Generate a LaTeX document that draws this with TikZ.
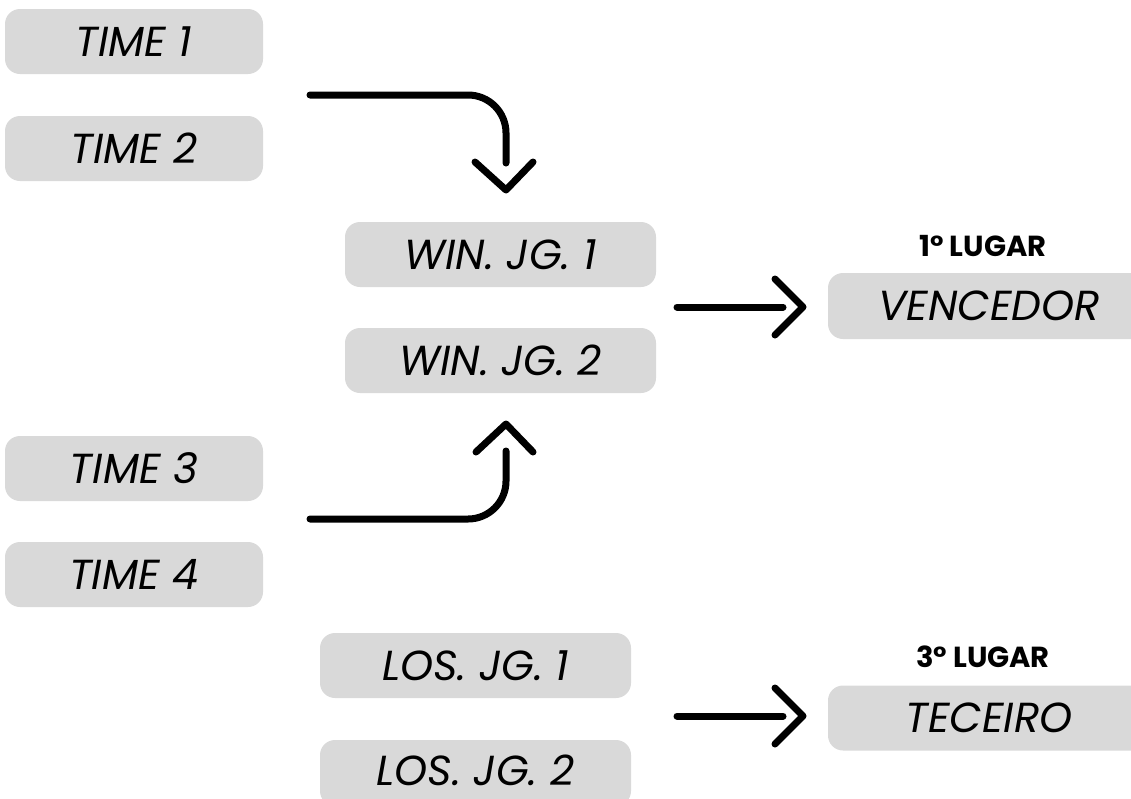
\documentclass[tikz,border=0pt]{standalone}
\usepackage{fontspec}
\setmainfont{Poppins}
\begin{document}
\begin{tikzpicture}[x=1pt,y=-1pt,
  txt/.style={inner sep=0pt,font=\fontsize{42}{46}\selectfont\itshape},
  box/.style={txt,fill=boxgray,rounded corners=15pt,minimum height=65pt},
  lbl/.style={font=\fontsize{29}{32}\selectfont\bfseries},
  conn/.style={line width=7pt,line cap=round,line join=round,rounded corners=38pt},
  chev/.style={line width=7pt,line cap=round,line join=round}]
\definecolor{boxgray}{HTML}{D9D9D9}
\useasboundingbox (0,0) rectangle (1131,798);
\node[box,minimum width=258pt] (t1) at (134,41.5) {TIME 1};
\node[box,minimum width=258pt] (t2) at (134,148.5) {TIME 2};
\node[box,minimum width=258pt] (t3) at (134,468.5) {TIME 3};
\node[box,minimum width=258pt] (t4) at (134,574.5) {TIME 4};
\node[box,minimum width=311pt] (w1) at (500.5,254.5) {WIN. JG. 1};
\node[box,minimum width=311pt] (w2) at (500.5,360.5) {WIN. JG. 2};
\node[box,minimum width=311pt] (l1) at (475.5,665.5) {LOS. JG. 1};
\fill[boxgray,rounded corners=15pt] (320,740) rectangle (631,806);
\node[txt] (l2) at (475.5,770) {LOS. JG. 2};
\node[box,minimum width=322pt,minimum height=66pt] (v) at (989,306) {VENCEDOR};
\node[box,minimum width=322pt] (te) at (989,718) {TECEIRO};
\node[lbl] (p1) at (983,246) {1° LUGAR};
\node[lbl] (p3) at (983,657) {3° LUGAR};
% top arrow
\coordinate (a1s) at (310,95);
\coordinate (a1e) at (506,163);
\draw[conn] (a1s) -| (a1e);
\draw[chev] (475,162) -- (506,190) -- (533,162);
% bottom arrow
\coordinate (a2s) at (310,519);
\coordinate (a2e) at (506,451);
\draw[conn] (a2s) -| (a2e);
\draw[chev] (476,452) -- (506,424) -- (533,452);
% middle arrow
\coordinate (a3s) at (677,307);
\coordinate (a3e) at (783,307);
\draw[conn] (a3s) -- (a3e);
\draw[chev] (775,279) -- (803,307) -- (775,335);
% lower arrow
\coordinate (a4s) at (677,716);
\coordinate (a4e) at (783,716);
\draw[conn] (a4s) -- (a4e);
\draw[chev] (775,688) -- (803,716) -- (775,744);
\end{tikzpicture}
\end{document}
